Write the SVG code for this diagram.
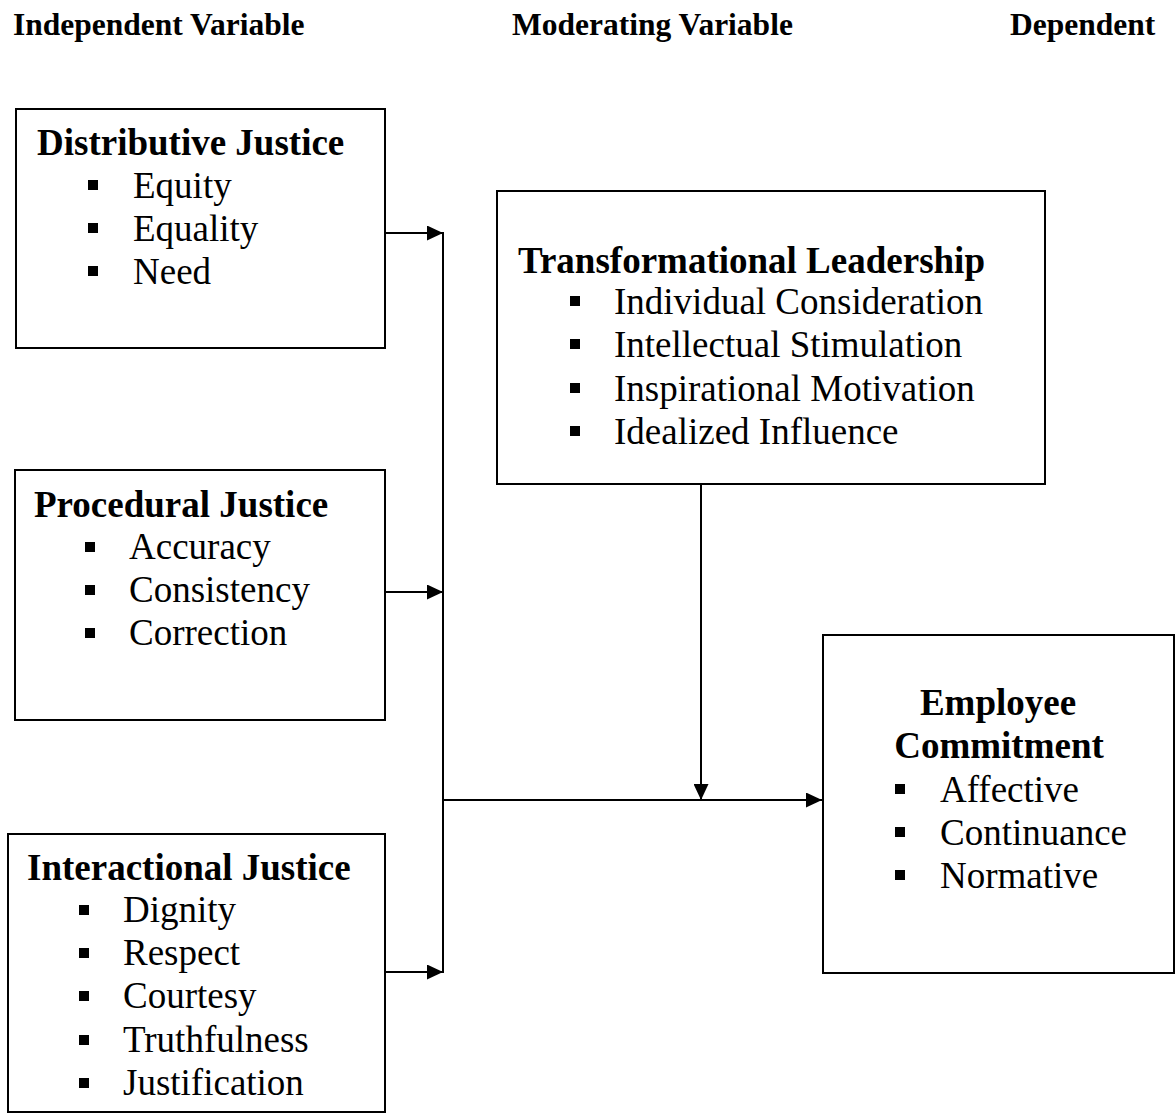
<svg xmlns="http://www.w3.org/2000/svg" width="1176" height="1120" viewBox="0 0 1176 1120">
  <style>
    .head { font-family: "Liberation Serif", "Times New Roman", serif; font-weight: bold; font-size: 31.5px; fill: #000; }
    .title { font-family: "Liberation Serif", "Times New Roman", serif; font-weight: bold; font-size: 37px; fill: #000; }
    .item { font-family: "Liberation Serif", "Times New Roman", serif; font-size: 37px; fill: #000; }
    .box { fill: #fff; stroke: #000; stroke-width: 2; }
    .wire { fill: none; stroke: #000; stroke-width: 2; }
    .dot { fill: #000; }
  </style>
  <defs>
    <marker id="arrow" markerUnits="userSpaceOnUse" markerWidth="16" markerHeight="15" refX="16" refY="7.5" orient="auto">
      <path d="M0,0 L16,7.5 L0,15 z" fill="#000"/>
    </marker>
  </defs>
  <rect width="1176" height="1120" fill="#fff"/>

  <!-- column headings -->
  <g id="headings">
    <text class="head" x="13" y="35">Independent Variable</text>
    <text class="head" x="512" y="35">Moderating Variable</text>
    <text class="head" x="1010" y="35">Dependent</text>
  </g>

  <!-- connectors -->
  <g id="connectors">
    <line class="wire" x1="386" y1="233" x2="443" y2="233" marker-end="url(#arrow)"/>
    <line class="wire" x1="386" y1="592" x2="443" y2="592" marker-end="url(#arrow)"/>
    <line class="wire" x1="386" y1="972" x2="443" y2="972" marker-end="url(#arrow)"/>
    <line class="wire" x1="443" y1="232" x2="443" y2="973"/>
    <line class="wire" x1="443" y1="800" x2="822" y2="800" marker-end="url(#arrow)"/>
    <line class="wire" x1="701" y1="484" x2="701" y2="800" marker-end="url(#arrow)"/>
  </g>

  <!-- Distributive Justice -->
  <g id="distributive">
    <rect class="box" x="16" y="109" width="369" height="239"/>
    <text class="title" x="37" y="155">Distributive Justice</text>
    <rect class="dot" x="88" y="180" width="10" height="10"/>
    <text class="item" x="133" y="198">Equity</text>
    <rect class="dot" x="88" y="223" width="10" height="10"/>
    <text class="item" x="133" y="241">Equality</text>
    <rect class="dot" x="88" y="266" width="10" height="10"/>
    <text class="item" x="133" y="284">Need</text>
  </g>

  <!-- Procedural Justice -->
  <g id="procedural">
    <rect class="box" x="15" y="470" width="370" height="250"/>
    <text class="title" x="34" y="517">Procedural Justice</text>
    <rect class="dot" x="85" y="542" width="10" height="10"/>
    <text class="item" x="129" y="559">Accuracy</text>
    <rect class="dot" x="85" y="585" width="10" height="10"/>
    <text class="item" x="129" y="602">Consistency</text>
    <rect class="dot" x="85" y="628" width="10" height="10"/>
    <text class="item" x="129" y="645">Correction</text>
  </g>

  <!-- Interactional Justice -->
  <g id="interactional">
    <rect class="box" x="8" y="834" width="377" height="278"/>
    <text class="title" x="27" y="880">Interactional Justice</text>
    <rect class="dot" x="79" y="905" width="10" height="10"/>
    <text class="item" x="123" y="922">Dignity</text>
    <rect class="dot" x="79" y="948" width="10" height="10"/>
    <text class="item" x="123" y="965">Respect</text>
    <rect class="dot" x="79" y="991" width="10" height="10"/>
    <text class="item" x="123" y="1008">Courtesy</text>
    <rect class="dot" x="79" y="1035" width="10" height="10"/>
    <text class="item" x="123" y="1052">Truthfulness</text>
    <rect class="dot" x="79" y="1078" width="10" height="10"/>
    <text class="item" x="123" y="1095">Justification</text>
  </g>

  <!-- Transformational Leadership -->
  <g id="transformational">
    <rect class="box" x="497" y="191" width="548" height="293"/>
    <text class="title" x="518" y="273">Transformational Leadership</text>
    <rect class="dot" x="570" y="296" width="10" height="10"/>
    <text class="item" x="614" y="314">Individual Consideration</text>
    <rect class="dot" x="570" y="339" width="10" height="10"/>
    <text class="item" x="614" y="357">Intellectual Stimulation</text>
    <rect class="dot" x="570" y="383" width="10" height="10"/>
    <text class="item" x="614" y="401">Inspirational Motivation</text>
    <rect class="dot" x="570" y="426" width="10" height="10"/>
    <text class="item" x="614" y="444">Idealized Influence</text>
  </g>

  <!-- Employee Commitment -->
  <g id="commitment">
    <rect class="box" x="823" y="635" width="351" height="338"/>
    <text class="title" x="998" y="715" text-anchor="middle">Employee</text>
    <text class="title" x="999" y="758" text-anchor="middle">Commitment</text>
    <rect class="dot" x="895" y="784" width="10" height="10"/>
    <text class="item" x="940" y="802">Affective</text>
    <rect class="dot" x="895" y="827" width="10" height="10"/>
    <text class="item" x="940" y="845">Continuance</text>
    <rect class="dot" x="895" y="870" width="10" height="10"/>
    <text class="item" x="940" y="888">Normative</text>
  </g>
</svg>
